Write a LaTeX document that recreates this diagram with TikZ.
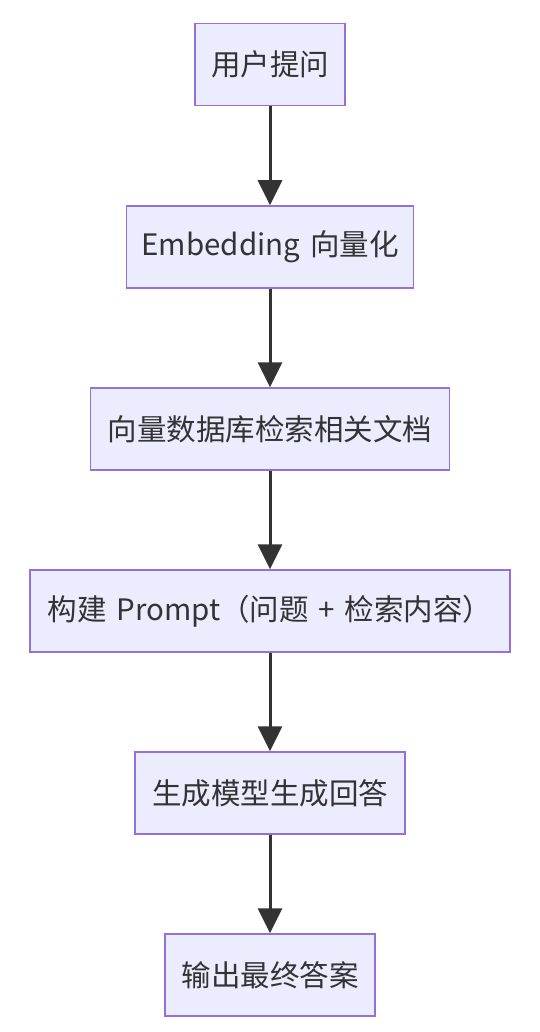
\documentclass[tikz,border=0pt]{standalone}
\usepackage{fontspec}
\setmainfont{Noto Sans CJK SC}[WordSpace=1.5]
\usetikzlibrary{arrows.meta}
\definecolor{boxfill}{HTML}{ECECFF}
\definecolor{boxline}{HTML}{9370DB}
\definecolor{arrowcol}{HTML}{333333}
\tikzset{
	stepbox/.style={draw=boxline,fill=boxfill,line width=1.5pt,minimum height=82pt,inner xsep=0pt,font=\fontsize{29.5}{32}\selectfont,text=arrowcol},
	flow/.style={draw=arrowcol,line width=3pt,-{Triangle[length=25pt,width=24pt]}}
}
\begin{document}
\begin{tikzpicture}[x=1pt,y=-1pt]
				\useasboundingbox (0,0) rectangle (540,1032);
				\node[stepbox,minimum width=150pt] (ask) at (270,64.5) {用户提问};
				\node[stepbox,minimum width=287pt] (embed) at (270,247) {Embedding 向量化};
				\node[stepbox,minimum width=359pt] (search) at (270,429) {向量数据库检索相关文档};
				\node[stepbox,minimum width=480pt] (prompt) at (270,611) {构建 Prompt（问题 + 检索内容）};
				\node[stepbox,minimum width=270pt] (gen) at (270,793) {生成模型生成回答};
				\node[stepbox,minimum width=210pt] (out) at (270,975) {输出最终答案};
				\foreach \a/\b in {ask/embed,embed/search,search/prompt,prompt/gen,gen/out}{
					\draw[flow] (\a) -- (\b);
				}
\end{tikzpicture}
\end{document}
